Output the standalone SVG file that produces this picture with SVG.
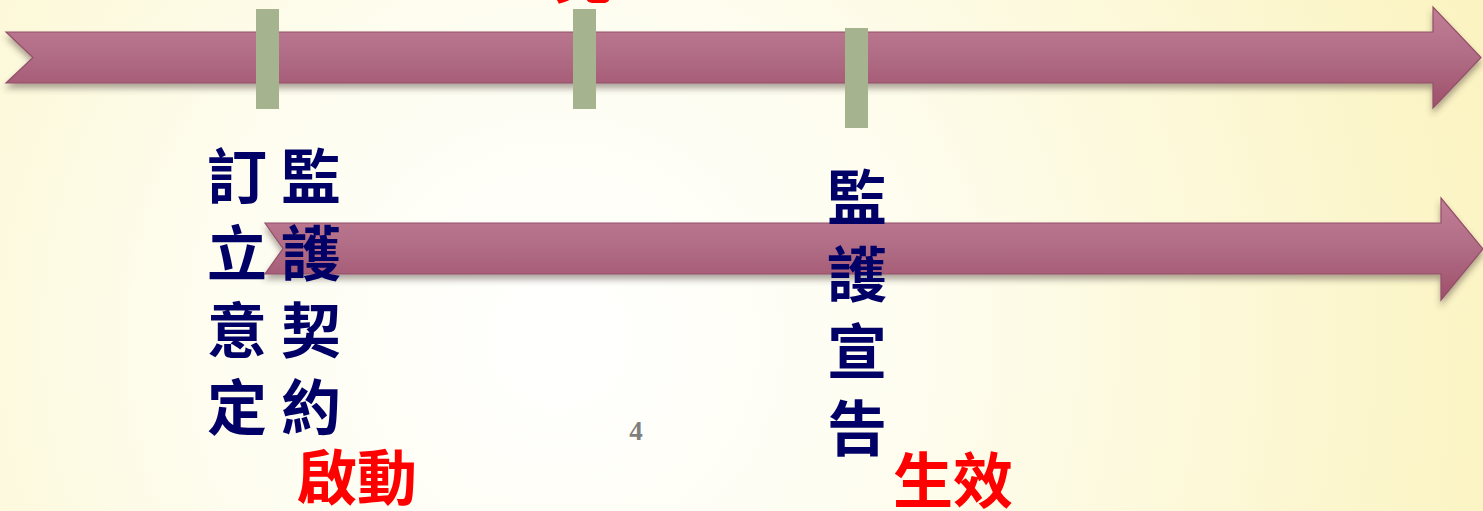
<svg xmlns="http://www.w3.org/2000/svg" width="1483" height="511" viewBox="0 0 1483 511">
  <defs>
    <radialGradient id="bg" cx="560" cy="340" r="980" gradientUnits="userSpaceOnUse">
      <stop offset="0" stop-color="#ffffff"/>
      <stop offset="0.35" stop-color="#fefdf0"/>
      <stop offset="0.75" stop-color="#fcf7d2"/>
      <stop offset="1" stop-color="#fbf3c0"/>
    </radialGradient>
    <linearGradient id="arrowFill" x1="0" y1="0" x2="0" y2="1">
      <stop offset="0" stop-color="#c17e95"/>
      <stop offset="0.5" stop-color="#b06c85"/>
      <stop offset="1" stop-color="#9f4f69"/>
    </linearGradient>
    <filter id="shadow" x="-5%" y="-30%" width="110%" height="170%">
      <feDropShadow dx="0" dy="5" stdDeviation="3" flood-color="#4a3a30" flood-opacity="0.45"/>
    </filter>
  </defs>
  <style>
    .arrow { fill: url(#arrowFill); stroke: #93506a; stroke-width: 1.2; stroke-linejoin: miter; filter: url(#shadow); }
    .bar { fill: #a5b48f; }
    .label { font-family: "Noto Sans CJK TC", "Noto Sans CJK SC", sans-serif; font-weight: bold; font-size: 60px; fill: #000066; text-anchor: middle; }
    .red { font-family: "Noto Sans CJK TC", "Noto Sans CJK SC", sans-serif; font-weight: bold; font-size: 60px; fill: #ff0000; text-anchor: middle; }
    .page { font-family: "Liberation Serif", serif; font-weight: bold; font-size: 27px; fill: #7f7f7f; text-anchor: middle; }
  </style>

  <rect x="0" y="0" width="1483" height="511" fill="url(#bg)"/>

  <g id="connectors">
    <polygon id="arrow-top" class="arrow" points="6,32 1433,32 1433,7 1481,57.5 1433,108 1433,83 6,83 33,57.5"/>
    <polygon id="arrow-bottom" class="arrow" points="265,223 1441,223 1441,198 1483,249 1441,300 1441,274 265,274 283,248.5"/>
  </g>

  <g id="top-red-label">
    <text class="red" x="583" y="-2">見</text>
  </g>

  <g id="marker-1">
    <rect class="bar" x="256" y="9" width="23" height="100"/>
  </g>
  <g id="marker-2">
    <rect class="bar" x="573" y="9" width="23" height="100"/>
  </g>
  <g id="marker-3">
    <rect class="bar" x="845" y="28" width="23" height="100"/>
  </g>

  <g id="node-yiding">
    <text class="label" x="237" y="199">訂</text>
    <text class="label" x="237" y="276">立</text>
    <text class="label" x="237" y="353">意</text>
    <text class="label" x="237" y="430">定</text>
  </g>
  <g id="node-contract">
    <text class="label" x="311" y="199">監</text>
    <text class="label" x="311" y="276">護</text>
    <text class="label" x="311" y="353">契</text>
    <text class="label" x="311" y="430">約</text>
  </g>
  <g id="node-start">
    <text class="red" x="357" y="500">啟動</text>
  </g>
  <g id="node-declaration">
    <text class="label" x="857" y="220">監</text>
    <text class="label" x="857" y="297">護</text>
    <text class="label" x="857" y="374">宣</text>
    <text class="label" x="857" y="451">告</text>
  </g>
  <g id="node-effective">
    <text class="red" x="953" y="503">生效</text>
  </g>
  <g id="page-number">
    <text class="page" x="636" y="440">4</text>
  </g>
</svg>
